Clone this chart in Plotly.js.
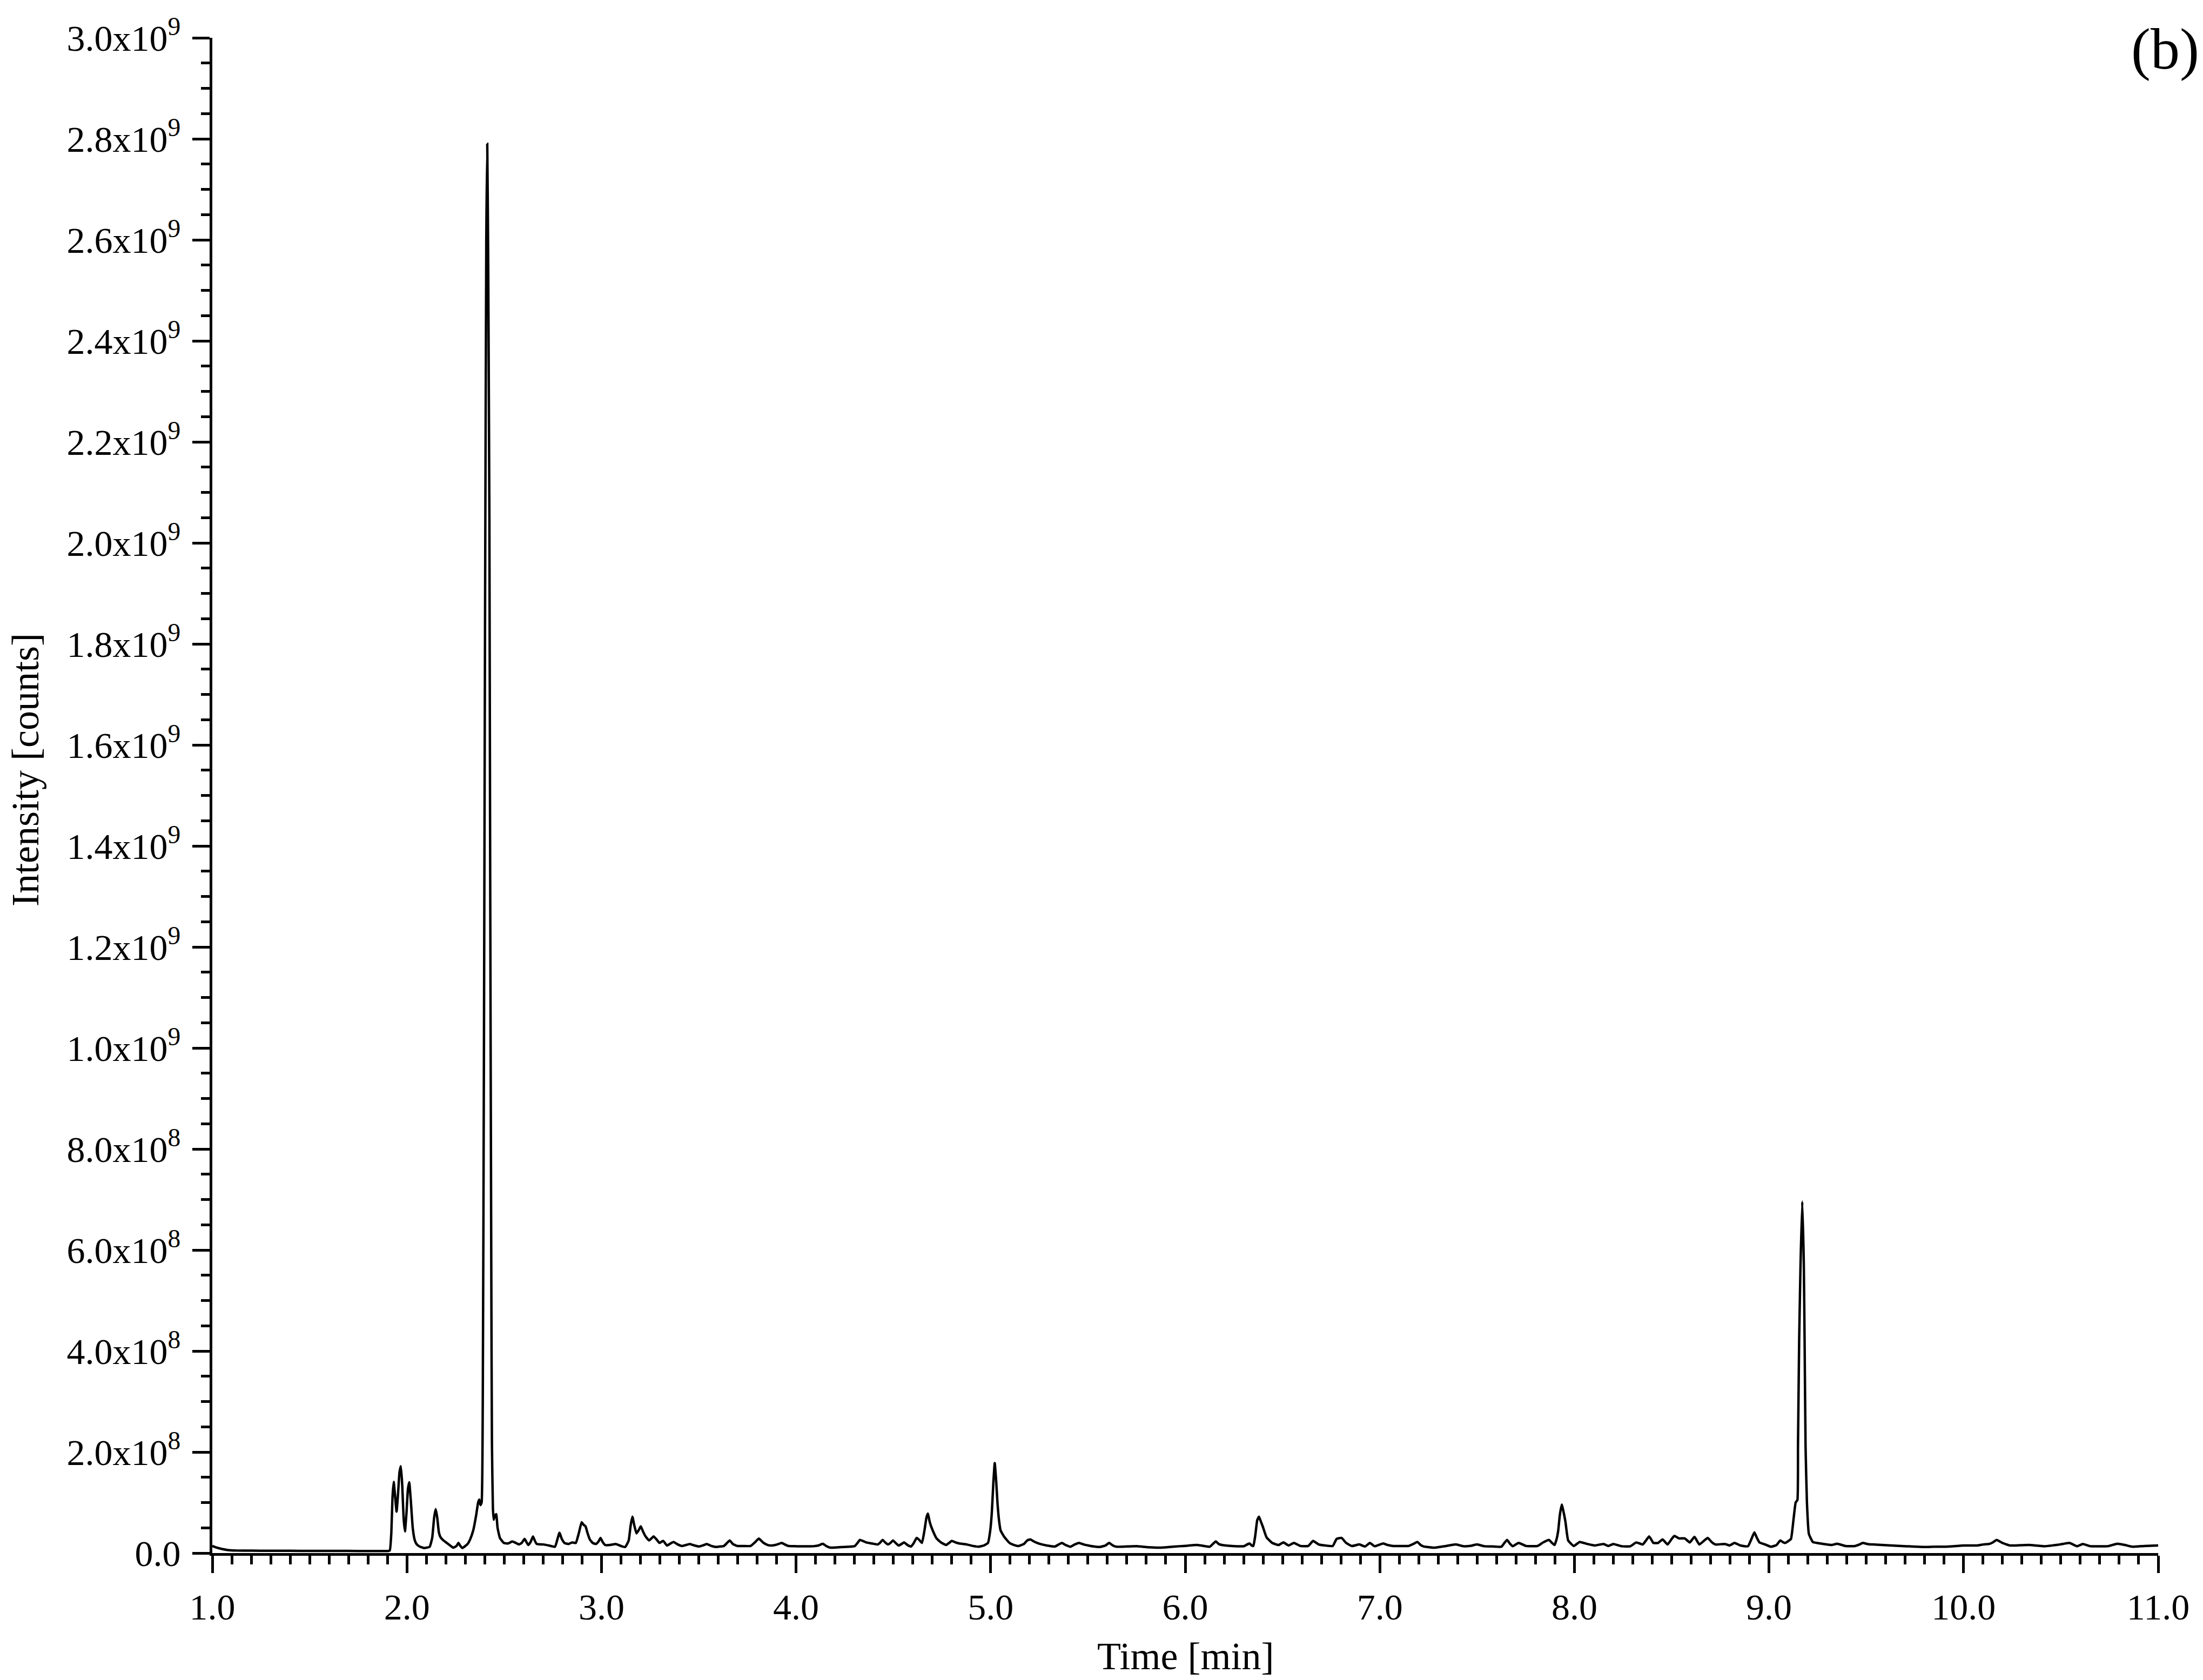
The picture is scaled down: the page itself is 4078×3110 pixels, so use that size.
<!DOCTYPE html>
<html>
<head>
<meta charset="utf-8">
<script src="https://cdn.plot.ly/plotly-3.0.1.min.js"></script>
<style>html,body{margin:0;padding:0;background:#fff;}</style>
</head>
<body>
<div id="chart" style="width:4078px;height:3110px;"></div>
<script>
// Retention time (min)
const timeMin = [
1.00,1.02,1.05,1.08,1.12,1.20,1.30,1.40,1.50,1.60,1.70,1.80,1.90,1.912,1.920,1.926,1.932,1.940,1.947,1.955,
1.962,1.969,1.976,1.983,1.990,1.998,2.005,2.012,2.020,2.030,2.040,2.049,2.065,2.088,2.117,2.130,2.140,2.148,2.156,2.164,
2.172,2.188,2.205,2.222,2.238,2.255,2.265,2.275,2.285,2.300,2.312,2.326,2.341,2.356,2.366,2.372,2.378,2.384,2.390,2.396,
2.402,2.408,2.413,2.418,2.424,2.428,2.433,2.437,2.442,2.446,2.452,2.459,2.466,2.478,2.498,2.520,2.542,2.560,2.576,2.590,
2.605,2.614,2.624,2.636,2.648,2.658,2.667,2.702,2.730,2.761,2.772,2.784,2.796,2.810,2.830,2.849,2.868,2.884,2.898,2.908,
2.918,2.928,2.940,2.955,2.972,2.985,2.995,3.006,3.019,3.045,3.073,3.100,3.122,3.140,3.150,3.159,3.168,3.180,3.192,3.202,
3.212,3.225,3.245,3.268,3.283,3.298,3.317,3.337,3.355,3.370,3.392,3.415,3.435,3.454,3.478,3.502,3.521,3.541,3.565,3.590,
3.610,3.629,3.645,3.659,3.675,3.698,3.730,3.766,3.788,3.809,3.830,3.854,3.875,3.893,3.910,3.926,3.942,3.961,4.000,4.040,
4.088,4.115,4.137,4.155,4.176,4.220,4.273,4.302,4.316,4.328,4.343,4.361,4.390,4.420,4.433,4.445,4.458,4.472,4.485,4.498,
4.512,4.527,4.542,4.556,4.572,4.591,4.605,4.620,4.633,4.647,4.660,4.670,4.677,4.688,4.702,4.722,4.745,4.771,4.786,4.800,
4.820,4.839,4.878,4.910,4.938,4.965,4.986,4.998,5.006,5.014,5.021,5.028,5.035,5.043,5.051,5.070,5.097,5.120,5.142,5.171,
5.188,5.204,5.222,5.240,5.265,5.288,5.331,5.350,5.366,5.385,5.409,5.432,5.454,5.478,5.502,5.530,5.561,5.590,5.609,5.628,
5.648,5.700,5.756,5.810,5.872,5.920,5.970,6.010,6.057,6.090,6.126,6.142,6.157,6.172,6.188,6.242,6.301,6.318,6.330,6.342,
6.350,6.360,6.370,6.379,6.389,6.399,6.418,6.447,6.480,6.505,6.531,6.558,6.593,6.632,6.657,6.686,6.720,6.758,6.778,6.803,
6.827,6.856,6.895,6.924,6.949,6.973,7.017,7.040,7.070,7.110,7.148,7.172,7.193,7.210,7.226,7.284,7.340,7.391,7.430,7.470,
7.499,7.537,7.580,7.625,7.640,7.654,7.668,7.683,7.713,7.752,7.810,7.839,7.869,7.885,7.898,7.910,7.917,7.925,7.935,7.945,
7.954,7.968,7.997,8.027,8.066,8.105,8.150,8.174,8.200,8.243,8.288,8.318,8.351,8.370,8.384,8.396,8.406,8.430,8.453,8.479,
8.500,8.514,8.538,8.567,8.593,8.617,8.642,8.665,8.685,8.705,8.725,8.774,8.797,8.823,8.853,8.892,8.912,8.925,8.938,8.951,
8.980,9.010,9.039,9.058,9.070,9.083,9.100,9.113,9.127,9.137,9.146,9.149,9.155,9.162,9.171,9.179,9.183,9.188,9.195,9.205,
9.225,9.246,9.281,9.324,9.350,9.393,9.442,9.465,9.482,9.505,9.531,9.580,9.629,9.708,9.796,9.850,9.905,10.003,10.072,10.101,
10.131,10.150,10.170,10.200,10.239,10.290,10.337,10.416,10.495,10.544,10.583,10.613,10.652,10.700,10.740,10.790,10.829,10.868,10.927,10.996,
11.00
];
// Intensity (counts)
const intensity = [
1.4e7,1.1e7,8e6,6e6,5e6,4.8e6,4.5e6,4.5e6,4.3e6,4.2e6,4.2e6,4.0e6,4.0e6,5e6,4e7,1.1e8,1.41e8,1.1e8,8.2e7,1.2e8,
1.6e8,1.72e8,1.35e8,7e7,4.3e7,8e7,1.25e8,1.40e8,1.05e8,5e7,2.6e7,1.8e7,1.3e7,1.0e7,1.25e7,3e7,7e7,8.7e7,7e7,4.2e7,
3.2e7,2.5e7,2e7,1.5e7,1.07e7,1.4e7,2.0e7,1.4e7,1.0e7,1.4e7,1.8e7,2.8e7,4.5e7,7.5e7,1.0e8,1.06e8,9.5e7,1.0e8,3e8,1.0e9,
1.9e9,2.6e9,2.79e9,2.55e9,2.05e9,1.35e9,6.5e8,2.2e8,9e7,6.6e7,7.4e7,7.7e7,5e7,3e7,2e7,1.9e7,2.3e7,2e7,1.7e7,2e7,
2.8e7,2.2e7,1.6e7,2.2e7,3.3e7,2.4e7,1.8e7,1.7e7,1.5e7,1.25e7,2.5e7,4e7,2.8e7,2e7,1.8e7,2.1e7,2e7,4e7,6.1e7,5.6e7,
5.3e7,4e7,2.7e7,2e7,1.8e7,2.3e7,3e7,2.2e7,1.6e7,1.6e7,1.8e7,1.4e7,1.2e7,2.5e7,5.5e7,7.2e7,5.6e7,3.9e7,4.6e7,5.3e7,
4.4e7,3.4e7,2.5e7,3.3e7,2.7e7,2e7,2.4e7,1.5e7,1.9e7,2.2e7,1.7e7,1.4e7,1.6e7,1.8e7,1.5e7,1.3e7,1.5e7,1.8e7,1.4e7,1.2e7,
1.3e7,1.4e7,2e7,2.5e7,1.8e7,1.4e7,1.4e7,1.4e7,2.1e7,2.85e7,2.1e7,1.6e7,1.5e7,1.6e7,1.8e7,2e7,1.7e7,1.4e7,1.35e7,1.35e7,
1.35e7,1.5e7,1.85e7,1.4e7,1.07e7,1.15e7,1.25e7,1.4e7,2e7,2.6e7,2.4e7,2.1e7,1.9e7,1.7e7,2.1e7,2.6e7,2.1e7,1.7e7,2e7,2.5e7,
2e7,1.5e7,1.8e7,2.1e7,1.6e7,1.3e7,2e7,3e7,2.6e7,2e7,4.5e7,7e7,7.8e7,6e7,4.5e7,2.9e7,2.1e7,1.6e7,2e7,2.4e7,
2.1e7,1.9e7,1.7e7,1.4e7,1.25e7,1.5e7,2e7,4.5e7,8e7,1.4e8,1.78e8,1.45e8,1.0e8,6.5e7,4.5e7,3.2e7,2e7,1.6e7,1.4e7,1.8e7,
2.5e7,2.7e7,2.3e7,2e7,1.7e7,1.5e7,1.3e7,1.7e7,2e7,1.6e7,1.25e7,1.7e7,2e7,1.7e7,1.5e7,1.3e7,1.2e7,1.5e7,2e7,1.5e7,
1.25e7,1.3e7,1.35e7,1.15e7,1.07e7,1.2e7,1.35e7,1.45e7,1.6e7,1.45e7,1.25e7,1.8e7,2.3e7,1.8e7,1.6e7,1.4e7,1.35e7,1.7e7,1.9e7,1.5e7,
1.4e7,3.5e7,6.5e7,7.2e7,6.2e7,5.2e7,3.1e7,2e7,1.6e7,2.1e7,1.5e7,2e7,1.4e7,1.4e7,2.4e7,1.7e7,1.5e7,1.4e7,2.8e7,3e7,
2e7,1.4e7,1.7e7,1.3e7,2e7,1.35e7,1.9e7,1.6e7,1.4e7,1.4e7,1.4e7,1.8e7,2.2e7,1.6e7,1.3e7,1.07e7,1.4e7,1.7e7,1.35e7,1.45e7,
1.7e7,1.35e7,1.3e7,1.25e7,2e7,2.6e7,1.9e7,1.35e7,2e7,1.4e7,1.4e7,2.1e7,2.6e7,2e7,1.6e7,3e7,4.5e7,7.5e7,9.6e7,8e7,
6.2e7,2.5e7,1.4e7,2.2e7,1.8e7,1.5e7,1.8e7,1.4e7,1.8e7,1.35e7,1.35e7,2.1e7,1.7e7,2.6e7,3.3e7,2.6e7,2e7,2e7,2.7e7,1.7e7,
2.8e7,3.4e7,2.9e7,2.9e7,2.1e7,3.2e7,1.7e7,2.4e7,3e7,2.2e7,1.7e7,1.8e7,1.5e7,2e7,1.5e7,1.35e7,3e7,4.1e7,3e7,2.1e7,
1.7e7,1.25e7,1.6e7,2.5e7,2.2e7,2e7,2.4e7,2.8e7,7e7,1.0e8,1.05e8,2.1e8,4.2e8,5.7e8,6.96e8,5.7e8,4.2e8,2.1e8,1.0e8,3.8e7,
2.2e7,2e7,1.8e7,1.6e7,1.85e7,1.4e7,1.4e7,1.7e7,2e7,1.8e7,1.7e7,1.6e7,1.5e7,1.35e7,1.2e7,1.25e7,1.25e7,1.5e7,1.5e7,1.7e7,
1.8e7,2.1e7,2.6e7,2e7,1.5e7,1.55e7,1.6e7,1.35e7,1.7e7,2e7,1.35e7,1.8e7,1.35e7,1.35e7,1.35e7,1.85e7,1.6e7,1.25e7,1.4e7,1.5e7,
1.5e7
];
// Axis ticks
const xTickVals = [1,2,3,4,5,6,7,8,9,10,11];
const xTickText = ['1.0','2.0','3.0','4.0','5.0','6.0','7.0','8.0','9.0','10.0','11.0'];
const yTickVals = [0,2e8,4e8,6e8,8e8,1e9,1.2e9,1.4e9,1.6e9,1.8e9,2e9,2.2e9,2.4e9,2.6e9,2.8e9,3e9];
const yTickText = ['0.0','2.0x10<sup>8</sup>','4.0x10<sup>8</sup>','6.0x10<sup>8</sup>','8.0x10<sup>8</sup>',
  '1.0x10<sup>9</sup>','1.2x10<sup>9</sup>','1.4x10<sup>9</sup>','1.6x10<sup>9</sup>','1.8x10<sup>9</sup>',
  '2.0x10<sup>9</sup>','2.2x10<sup>9</sup>','2.4x10<sup>9</sup>','2.6x10<sup>9</sup>','2.8x10<sup>9</sup>','3.0x10<sup>9</sup>'];
const xTitle = 'Time [min]';
const yTitle = 'Intensity [counts]';
const panelLabel = '(b)';

const FONT = 'Liberation Serif, Times New Roman, serif';

const trace = {
  x: timeMin, y: intensity, type: 'scatter', mode: 'lines',
  line: {color: '#000', width: 4.5, shape: 'spline', smoothing: 0.4},
  hoverinfo: 'skip', showlegend: false
};

const axisCommon = {
  showline: true, linecolor: '#000', linewidth: 5,
  ticks: 'outside', ticklen: 32, tickwidth: 5, tickcolor: '#000',
  showgrid: false, zeroline: false,
  tickfont: {family: FONT, size: 68, color: '#000'},
  tickmode: 'array'
};

const layout = {
  width: 4078, height: 3110,
  margin: {l: 393, r: 83, t: 70, b: 235, pad: 0},
  paper_bgcolor: '#fff', plot_bgcolor: '#fff',
  font: {family: FONT, color: '#000'},
  xaxis: Object.assign({}, axisCommon, {
    range: [1, 11], tickvals: xTickVals, ticktext: xTickText,
    ticklabelstandoff: 4,
    minor: {ticks: 'outside', ticklen: 16, tickwidth: 5, tickcolor: '#000', tickmode: 'linear', tick0: 1, dtick: 0.1, showgrid: false}
  }),
  yaxis: Object.assign({}, axisCommon, {
    range: [0, 3e9], tickvals: yTickVals, ticktext: yTickText,
    ticklabelstandoff: 8,
    minor: {ticks: 'outside', ticklen: 16, tickwidth: 5, tickcolor: '#000', tickmode: 'linear', tick0: 0, dtick: 5e7, showgrid: false}
  }),
  annotations: [
    {text: xTitle, xref: 'paper', yref: 'paper', x: 0.5, y: -0.068, xanchor: 'center', yanchor: 'middle',
     showarrow: false, font: {family: FONT, size: 72, color: '#000'}},
    {text: yTitle, xref: 'paper', yref: 'paper', x: -0.096, y: 0.517, xanchor: 'center', yanchor: 'middle',
     textangle: -90, showarrow: false, font: {family: FONT, size: 72, color: '#000'}},
    {text: panelLabel, xref: 'paper', yref: 'paper', x: 1.0216, y: 0.9925, xanchor: 'right', yanchor: 'middle',
     showarrow: false, font: {family: FONT, size: 108, color: '#000'}}
  ]
};

Plotly.newPlot('chart', [trace], layout, {staticPlot: true, displayModeBar: false});
</script>
</body>
</html>
